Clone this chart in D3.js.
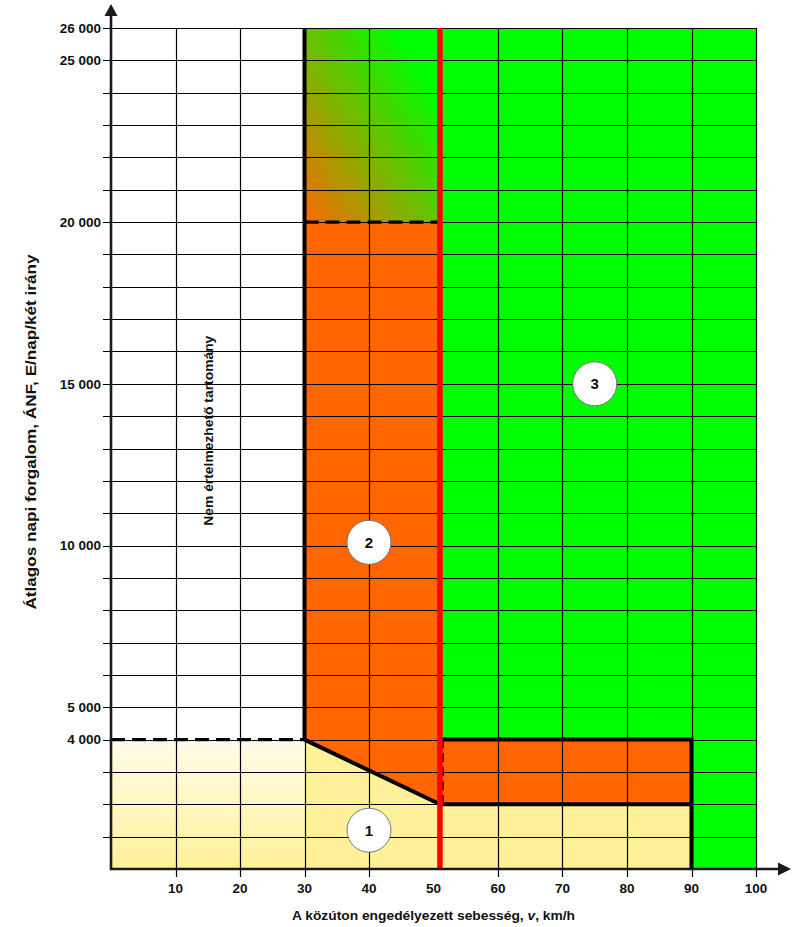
<!DOCTYPE html>
<html><head><meta charset="utf-8">
<script src="https://cdn.jsdelivr.net/npm/d3@7/dist/d3.min.js"></script>
<style>
html,body{margin:0;padding:0;background:#fff;}
text{font-family:"Liberation Sans",Arial,sans-serif;font-weight:bold;fill:#111;}
</style></head>
<body>
<svg id="chart" width="801" height="927"></svg>
<script>
// ---- data ----
const xTicks = [10, 20, 30, 40, 50, 60, 70, 80, 90, 100];
const xGrid = [10, 20, 30, 40, 60, 70, 80, 90, 100];
const yLabelTicks = [4000, 5000, 10000, 15000, 20000, 25000, 26000];
const yGrid = [1000, 2000, 3000, 4000, 5000, 6000, 7000, 8000, 9000, 10000, 11000, 12000, 13000,
  14000, 15000, 16000, 17000, 18000, 19000, 20000, 21000, 22000, 23000, 24000, 25000, 26000];
const speedLimit = 51;           // red boundary
const zoneGreen = [[51, 0], [51, 26000], [100, 26000], [100, 0]];
const zoneYellowSolid = [[30, 0], [30, 4000], [51, 2000], [90, 2000], [90, 0]];
const zoneYellowFade = [[0, 0], [0, 4000], [30, 4000], [30, 0]];
const zoneOrange = [[30, 4000], [30, 20000], [51, 20000], [51, 2000]];
const zoneOrangeRect = [[51, 2000], [51, 4000], [90, 4000], [90, 2000]];
const zoneMixed = [[30, 20000], [30, 26000], [51, 26000], [51, 20000]];
const mixFrom = [16.3, 23910];   // orange end of the blend
const mixTo = [40.2, 27080];     // green end of the blend
const solidBorders = [
  [[30, 4000], [30, 26000]],
  [[30, 4000], [51, 2000]],
  [[51, 2000], [90, 2000]],
  [[51, 4000], [90, 4000], [90, 0]]
];
const dashedBorders = [
  [[0, 4000], [30, 4000]],
  [[30, 20000], [51, 20000]]
];
const dashedRectSide = [[51.4, 2000], [51.4, 4000]];
const zoneLabels = ["1", "2", "3"];
const zoneLabelSpeed = [40, 40, 75];
const zoneLabelAdt = [1200, 10100, 15000];
const undefinedZoneText = "Nem értelmezhető tartomány";
const undefinedZonePos = [15.2, 13550];

// ---- setup ----
const svg = d3.select("#chart");
const x = d3.scaleLinear().domain([0, 100]).range([111, 756]);
const y = d3.scaleLinear().domain([0, 26000]).range([869, 28]);
const line = d3.line().x(d => x(d[0])).y(d => y(d[1]));
const poly = pts => line(pts) + "Z";

const defs = svg.append("defs");
const gFade = defs.append("linearGradient").attr("id", "fade")
  .attr("x1", 0).attr("y1", 0).attr("x2", 0).attr("y2", 1);
gFade.append("stop").attr("offset", 0).attr("stop-color", "#fffcea");
gFade.append("stop").attr("offset", 1).attr("stop-color", "#fff199");

const gMix = defs.append("linearGradient").attr("id", "mix")
  .attr("gradientUnits", "userSpaceOnUse")
  .attr("x1", x(mixFrom[0])).attr("y1", y(mixFrom[1]))
  .attr("x2", x(mixTo[0])).attr("y2", y(mixTo[1]));
gMix.append("stop").attr("offset", 0).attr("stop-color", "#ff6600");
gMix.append("stop").attr("offset", 1).attr("stop-color", "#00ff00");

// ---- fills ----
svg.append("path").attr("d", poly(zoneGreen)).attr("fill", "#00ff00");
svg.append("path").attr("d", poly(zoneYellowSolid)).attr("fill", "#fff199");
svg.append("path").attr("d", poly(zoneYellowFade)).attr("fill", "url(#fade)");
svg.append("path").attr("d", poly(zoneOrange)).attr("fill", "#ff6600");
svg.append("path").attr("d", poly(zoneOrangeRect)).attr("fill", "#ff6600");
svg.append("path").attr("d", poly(zoneMixed)).attr("fill", "url(#mix)");

// ---- grid ----
svg.append("g").selectAll("line").data(yGrid).join("line")
  .attr("x1", x(0) - 8).attr("x2", x(100))
  .attr("y1", d => Math.round(y(d)) + 0.5).attr("y2", d => Math.round(y(d)) + 0.5)
  .attr("stroke", "#000").attr("stroke-width", 1.2);
svg.append("g").selectAll("line").data(xGrid).join("line")
  .attr("x1", d => Math.round(x(d)) + 0.5).attr("x2", d => Math.round(x(d)) + 0.5)
  .attr("y1", y(26000)).attr("y2", y(0) + 8)
  .attr("stroke", "#000").attr("stroke-width", 1.2);

// ---- borders ----
svg.append("g").selectAll("path").data(solidBorders).join("path")
  .attr("d", d => line(d)).attr("fill", "none").attr("stroke", "#000")
  .attr("stroke-width", 4).attr("stroke-linejoin", "miter");
svg.append("g").selectAll("path").data(dashedBorders).join("path")
  .attr("d", d => line(d)).attr("fill", "none").attr("stroke", "#000")
  .attr("stroke-width", 3.2).attr("stroke-dasharray", "14,7");
svg.append("path").attr("d", line(dashedRectSide)).attr("fill", "none")
  .attr("stroke", "#000").attr("stroke-width", 2.5).attr("stroke-dasharray", "9,5");
svg.append("line").attr("x1", x(speedLimit)).attr("x2", x(speedLimit))
  .attr("y1", y(26000)).attr("y2", y(0))
  .attr("stroke", "#ff0000").attr("stroke-width", 5.5);

// ---- axes ----
const axCol = "#1a1a1a";
svg.append("line").attr("x1", x(0)).attr("x2", x(0)).attr("y1", y(0) + 1).attr("y2", 14)
  .attr("stroke", axCol).attr("stroke-width", 2.6);
svg.append("path").attr("d", `M${x(0)},4 L${x(0) - 6.5},16 L${x(0) + 6.5},16Z`).attr("fill", axCol);
svg.append("line").attr("x1", x(0) - 1).attr("x2", 780).attr("y1", y(0)).attr("y2", y(0))
  .attr("stroke", axCol).attr("stroke-width", 2.6);
svg.append("path").attr("d", `M791,${y(0)} L778,${y(0) - 6.5} L778,${y(0) + 6.5}Z`).attr("fill", axCol);

const fmt = d => d3.format(",")(d).replace(/,/g, " ");
svg.append("g").selectAll("text").data(yLabelTicks).join("text")
  .attr("x", 101).attr("y", d => y(d)).attr("dy", "0.35em")
  .attr("text-anchor", "end").attr("font-size", 13.5).text(fmt);
svg.append("g").selectAll("text").data(xTicks).join("text")
  .attr("x", d => x(d)).attr("y", 893)
  .attr("text-anchor", "middle").attr("font-size", 13.5).text(d => d);

// ---- titles ----
const xt = svg.append("text").attr("x", 433.5).attr("y", 920).attr("text-anchor", "middle")
  .attr("font-size", 13.5).attr("textLength", 283).attr("lengthAdjust", "spacingAndGlyphs");
xt.append("tspan").text("A közúton engedélyezett sebesség, ");
xt.append("tspan").attr("font-style", "italic").text("v");
xt.append("tspan").text(", km/h");

svg.append("text").attr("transform", "translate(36,432) rotate(-90)")
  .attr("text-anchor", "middle").attr("font-size", 14)
  .attr("textLength", 355).attr("lengthAdjust", "spacingAndGlyphs")
  .text("Átlagos napi forgalom, ÁNF, E/nap/két irány");

svg.append("text")
  .attr("transform", `translate(${x(undefinedZonePos[0]) + 4},${y(undefinedZonePos[1])}) rotate(-90)`)
  .attr("text-anchor", "middle").attr("font-size", 12.5)
  .attr("textLength", 190).attr("lengthAdjust", "spacingAndGlyphs")
  .text(undefinedZoneText);

// ---- zone markers ----
const marks = svg.append("g").selectAll("g").data(zoneLabels).join("g")
  .attr("transform", (d, i) => `translate(${x(zoneLabelSpeed[i])},${y(zoneLabelAdt[i])})`);
marks.append("circle").attr("r", 22).attr("fill", "#fff").attr("stroke", "#777").attr("stroke-width", 1);
marks.append("text").attr("text-anchor", "middle").attr("dy", "0.36em").attr("font-size", 15).text(d => d);
</script>
</body></html>
